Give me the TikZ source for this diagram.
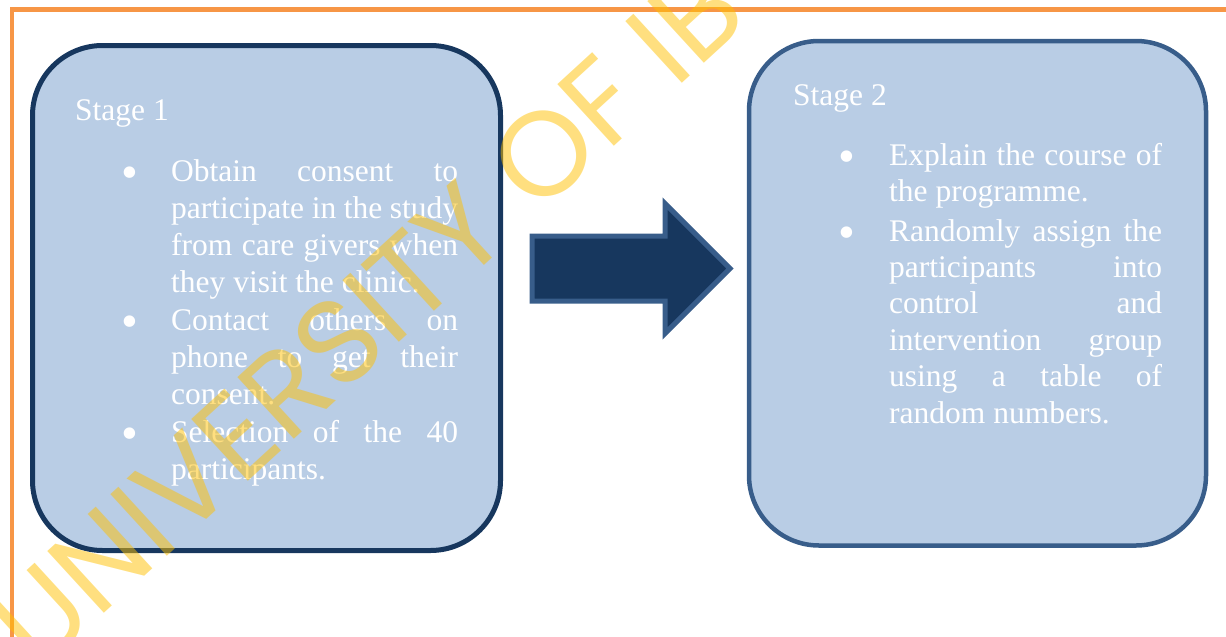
\documentclass[tikz,border=0pt]{standalone}
\usepackage{fontspec}
\setmainfont{Liberation Serif}
\newfontfamily\markfont{Poppins}
\definecolor{boxfill}{HTML}{B9CDE5}
\definecolor{navy}{HTML}{17375E}
\definecolor{steel}{HTML}{385D8A}
\definecolor{frameorange}{HTML}{F79646}
\definecolor{markgold}{HTML}{FFC000}

\begin{document}
\begin{tikzpicture}[x=1pt,y=-1pt,
		stage node/.style={rectangle,rounded corners=70pt,fill=boxfill,line width=5pt,inner sep=0pt},
		title node/.style={text=white,inner sep=0pt,anchor=base west,font=\fontsize{31.5}{37.3}\selectfont},
		item node/.style={text=white,inner sep=0pt,anchor=base west,align=justify,font=\fontsize{31.5}{37.3}\selectfont},
		dot node/.style={text=white,inner sep=0pt,anchor=base,yshift=-7pt,font=\fontsize{48}{48}\selectfont},
		block arrow/.style={fill=navy,draw=steel,line width=5pt},
		frame line/.style={draw=frameorange,line width=4.5pt},
		mark node/.style={text=markgold,opacity=0.5,inner sep=0pt,anchor=base west,rotate=42.5,font=\markfont\fontsize{120}{120}\selectfont}]
		\useasboundingbox (0,0) rectangle (1226,637);
		% page frame
		\draw[frame line] (12,637) -- (12,9.5) -- (1226,9.5);
		% stage 1
		\node[stage node, draw=navy, minimum width=468pt, minimum height=505pt] (stage1) at (266.5,298) {};
		\node[title node] (t1) at (75,120) {Stage 1};
		\node[dot node] (d1a) at (130,181) {\textbullet};
		\node[item node, text width=287pt] (s1a) at (171,181) {Obtain consent to\linebreak participate in the study\linebreak from care givers when\linebreak they visit the clinic.};
		\node[dot node] (d1b) at (130,330) {\textbullet};
		\node[item node, text width=287pt] (s1b) at (171,330) {Contact others on\linebreak phone to get their\linebreak consent.};
		\node[dot node] (d1c) at (130,442) {\textbullet};
		\node[item node, text width=287pt] (s1c) at (171,442) {Selection of the 40\linebreak participants.};
		% arrow between the stages
		\draw[block arrow] (532,236) -- (665,236) -- (665,203.5) -- (730,268.5) -- (665,333.5) -- (665,301) -- (532,301) -- cycle;
		% stage 2
		\node[stage node, draw=steel, line width=4.5pt, minimum width=457pt, minimum height=504.5pt] (stage2) at (977.5,293.25) {};
		\node[title node] (t2) at (793,105) {Stage 2};
		\node[dot node] (d2a) at (847,165) {\textbullet};
		\node[item node, text width=273pt, font=\fontsize{31.5}{36.4}\selectfont] (s2a) at (889,165) {Explain the course of\linebreak the programme.};
		\node[dot node] (d2b) at (847,241) {\textbullet};
		\node[item node, text width=273pt, font=\fontsize{31.5}{36.4}\selectfont] (s2b) at (889,241) {Randomly assign the\linebreak participants into\linebreak control and\linebreak intervention group\linebreak using a table of\linebreak random numbers.};
		% watermark
		\begin{scope}
			\clip (0,0) rectangle (1226,637);
			\node[mark node] (mark) at (38,674) {UNIVERSITY OF IB};
		\end{scope}
\end{tikzpicture}
\end{document}
